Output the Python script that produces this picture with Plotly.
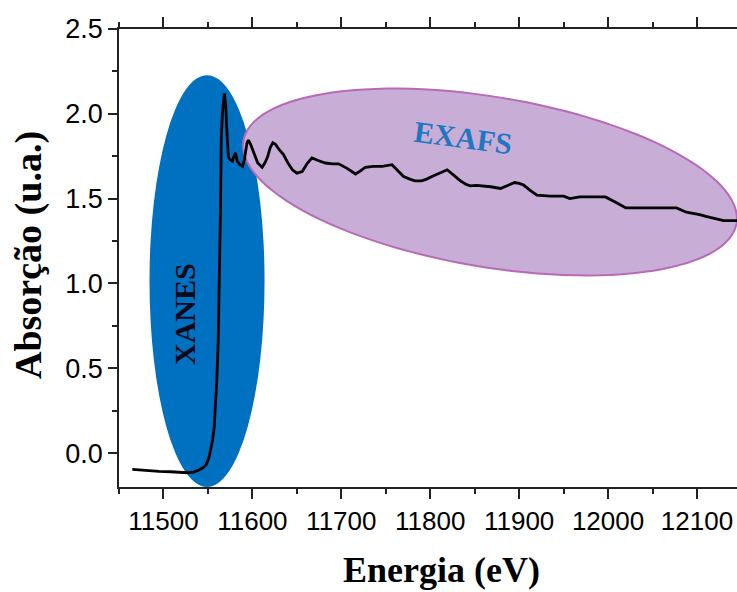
import numpy as np
import plotly.graph_objects as go

# ---- data ----
energy = [11465, 11475, 11482, 11495, 11508, 11520, 11527, 11534, 11540, 11545,
          11548, 11551, 11553, 11555, 11557, 11558.5, 11560, 11561.5, 11563, 11564,
          11565, 11566.5, 11568.5, 11570, 11571, 11572, 11573, 11575, 11577.5, 11580,
          11581, 11583, 11586, 11589, 11591, 11594, 11595.5, 11598, 11600, 11603,
          11606, 11611, 11614, 11617, 11620, 11623, 11626, 11630, 11635, 11640,
          11645, 11650, 11656, 11662, 11667, 11674, 11682, 11690, 11697, 11706,
          11716, 11722, 11727, 11736, 11746, 11757, 11763, 11770, 11777, 11783,
          11790, 11796, 11802, 11808, 11814, 11819, 11826, 11834, 11840, 11845,
          11852, 11860, 11868, 11879, 11888, 11895, 11900, 11905, 11912, 11920,
          11935, 11950, 11957, 11968, 11985, 11997, 12008, 12014, 12020, 12050,
          12077, 12088, 12095, 12103, 12110, 12118, 12125, 12130, 12145]
absorb = [-0.096, -0.100, -0.106, -0.108, -0.110, -0.113, -0.116, -0.112, -0.100, -0.085,
          -0.068, -0.030, 0.02, 0.07, 0.15, 0.26, 0.43, 0.65, 1.00, 1.40,
          1.86, 2.02, 2.12, 2.05, 1.93, 1.82, 1.745, 1.73, 1.72, 1.76,
          1.77, 1.72, 1.70, 1.69, 1.73, 1.83, 1.845, 1.82, 1.79, 1.75,
          1.71, 1.685, 1.71, 1.745, 1.80, 1.83, 1.82, 1.79, 1.76, 1.71,
          1.67, 1.65, 1.66, 1.71, 1.74, 1.725, 1.71, 1.705, 1.705, 1.68,
          1.645, 1.665, 1.685, 1.69, 1.69, 1.70, 1.665, 1.63, 1.615, 1.605,
          1.605, 1.615, 1.63, 1.645, 1.66, 1.67, 1.64, 1.605, 1.585, 1.575,
          1.578, 1.575, 1.57, 1.56, 1.58, 1.595, 1.59, 1.58, 1.55, 1.52,
          1.515, 1.515, 1.50, 1.51, 1.51, 1.51, 1.48, 1.46, 1.445, 1.445,
          1.445, 1.42, 1.415, 1.405, 1.395, 1.385, 1.375, 1.37, 1.37]

x_ticks = [11500, 11600, 11700, 11800, 11900, 12000, 12100]
y_ticks = [0.0, 0.5, 1.0, 1.5, 2.0, 2.5]
x_range = [11450, 12145]
y_range = [-0.2, 2.5]

# ---- layout geometry ----
W, H = 737, 592
ML, MR, MT, MB = 119, 0, 29, 105
pw, ph = W - ML - MR, H - MT - MB
sx = pw / (x_range[1] - x_range[0])   # px per eV
sy = ph / (y_range[1] - y_range[0])   # px per unit


def rotated_ellipse_path(cx, cy, a_px, b_px, ang_deg, n=120):
    t = np.linspace(0, 2 * np.pi, n)
    th = np.deg2rad(ang_deg)
    dx = a_px * np.cos(t) * np.cos(th) - b_px * np.sin(t) * np.sin(th)
    dy = a_px * np.cos(t) * np.sin(th) + b_px * np.sin(t) * np.cos(th)
    xs = cx + dx / sx
    ys = cy - dy / sy
    pts = [f"{xv:.3f},{yv:.5f}" for xv, yv in zip(xs, ys)]
    return "M " + " L ".join(pts) + " Z"


fig = go.Figure()
fig.add_trace(go.Scatter(x=energy, y=absorb, mode="lines",
                         line=dict(color="black", width=2.8), showlegend=False))

# XANES ellipse (blue)
fig.add_shape(type="circle", xref="x", yref="y",
              x0=11484.3, x1=11613.7, y0=-0.2, y1=2.228,
              fillcolor="#0070C0", line=dict(width=0), layer="below")
# EXAFS ellipse (purple, tilted)
fig.add_shape(type="path", xref="x", yref="y",
              path=rotated_ellipse_path(11867.2, 1.598, 250, 85, 9.5),
              fillcolor="#C8ADD6", line=dict(color="#B86AB8", width=2), layer="below")

serif = "Liberation Serif"
fig.add_annotation(text="<b>XANES</b>", x=11524.2, y=0.82, xref="x", yref="y",
                   showarrow=False, textangle=-90,
                   font=dict(family=serif, size=30, color="#0a0a1a"))
fig.add_annotation(text="<b>EXAFS</b>", x=11837, y=1.863, xref="x", yref="y",
                   showarrow=False, textangle=7.5,
                   font=dict(family=serif, size=30, color="#1F77C2"))
fig.add_annotation(text="<b>Energia (eV)</b>", x=(442 - ML) / pw, y=0, xref="paper", yref="paper",
                   yanchor="middle", yshift=-(570 - (MT + ph)), showarrow=False,
                   font=dict(family=serif, size=36, color="black"))
fig.add_annotation(text="<b>Absorção (u.a.)</b>", x=0, y=1 - (255 - MT) / ph, xref="paper", yref="paper",
                   xanchor="center", xshift=-(ML - 29), showarrow=False, textangle=-90,
                   font=dict(family=serif, size=38, color="black"))

axis_col = "#222222"
tickfont = dict(family="Liberation Sans", size=26, color="black")
fig.update_layout(
    width=W, height=H,
    margin=dict(l=ML, r=MR, t=MT, b=MB, pad=0),
    plot_bgcolor="white", paper_bgcolor="white",
    xaxis=dict(range=x_range, tickvals=x_ticks, tickformat="d", ticks="outside", ticklen=10,
               tickwidth=1.5, tickcolor=axis_col, showline=True, mirror="allticks",
               linecolor=axis_col, linewidth=1.5, showgrid=False, zeroline=False,
               tickfont=tickfont,
               minor=dict(dtick=50, tick0=11450, ticks="outside", ticklen=5,
                          tickwidth=1.5, tickcolor=axis_col, showgrid=False)),
    yaxis=dict(range=y_range, tickvals=y_ticks, tickformat=".1f", ticks="outside",
               ticklen=9, tickwidth=1.5, tickcolor=axis_col, showline=True,
               linecolor=axis_col, linewidth=1.5, showgrid=False, zeroline=False,
               tickfont=dict(family="Liberation Sans", size=27, color="black"),
               minor=dict(dtick=0.25, tick0=0, ticks="outside", ticklen=5,
                          tickwidth=1.5, tickcolor=axis_col, showgrid=False)),
)

fig.write_html("out.html")
